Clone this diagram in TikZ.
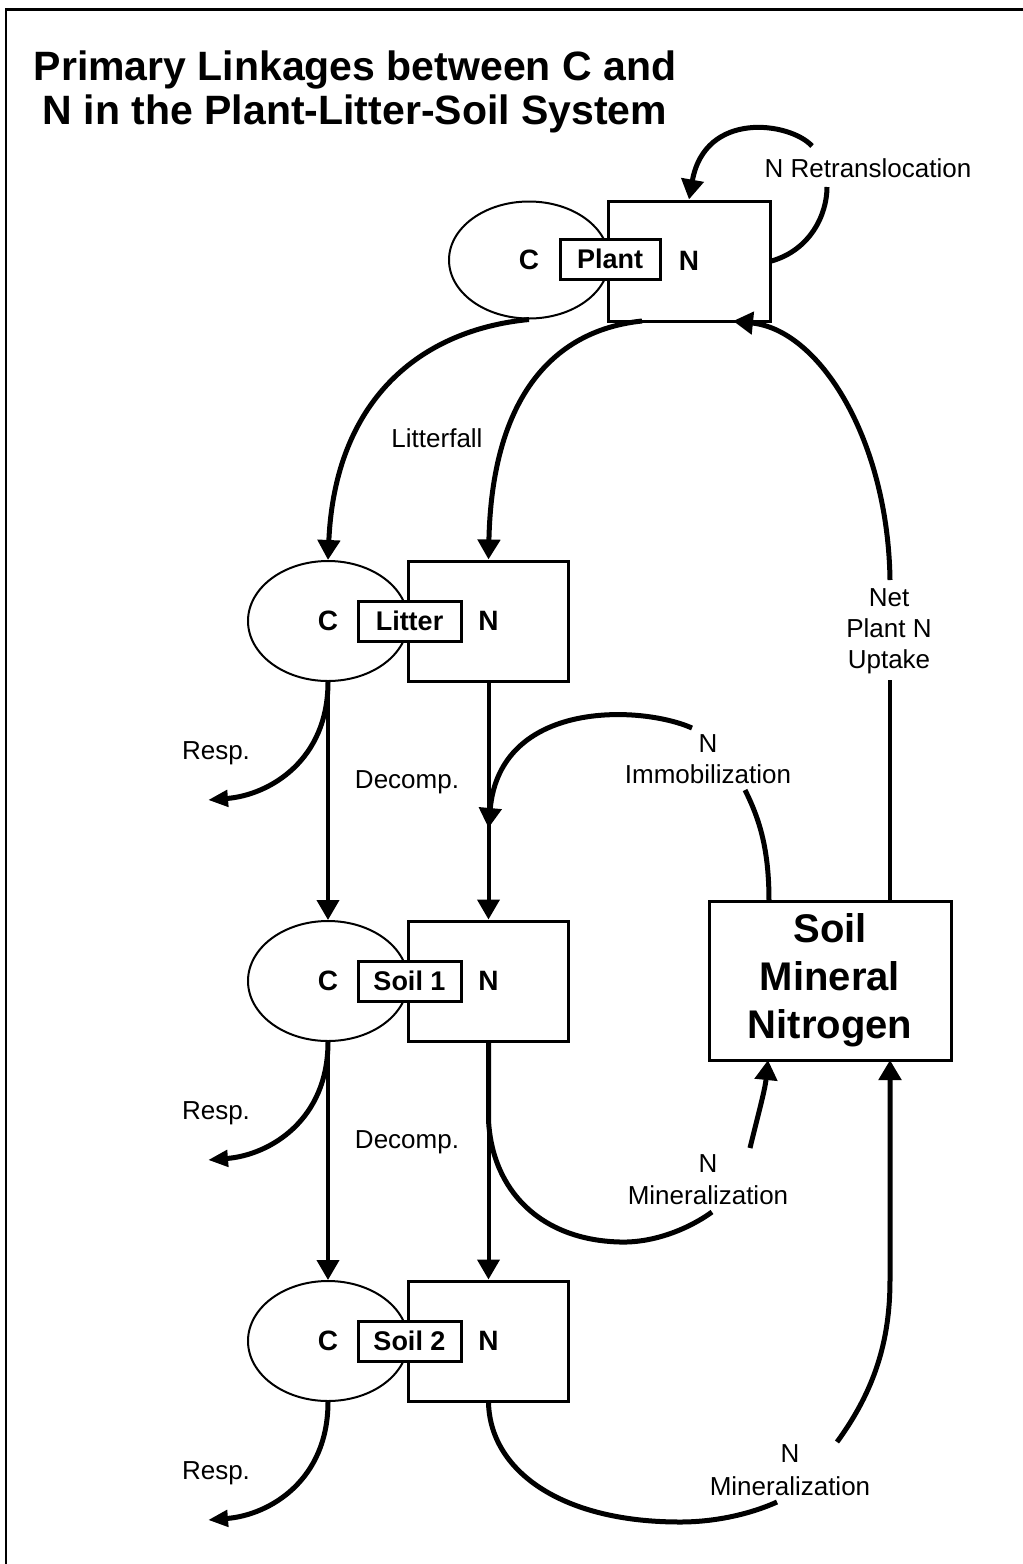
\documentclass[tikz,border=0pt]{standalone}
\usepackage{fontspec}
\setmainfont{Liberation Sans}
\usetikzlibrary{arrows.meta,shapes.geometric}
\begin{document}
\begin{tikzpicture}[x=1pt,y=-1pt,
  lbl/.style={font=\fontsize{26}{30}\selectfont, anchor=base, inner sep=0pt},
  bx/.style={draw, line width=3pt, fill=white, minimum width=160pt, minimum height=120pt, inner sep=0pt, font=\bfseries\fontsize{28}{30}\selectfont},
  ell/.style={draw, ellipse, line width=2pt, minimum width=160pt, minimum height=120pt, inner sep=0pt, font=\bfseries\fontsize{28}{30}\selectfont},
  tag/.style={draw, line width=3pt, fill=white, minimum width=103pt, minimum height=40pt, inner sep=0pt, text height=19pt, text depth=0pt, font=\bfseries\fontsize{27}{30}\selectfont},
  flow/.style={line width=4pt, -{Triangle[width=22pt,length=20pt]}},
  curve/.style={line width=5pt, -{Triangle[width=22pt,length=20pt]}},
  curvenotip/.style={line width=5pt},
  resp/.style={line width=5pt, -{Triangle[width=16pt,length=20pt]}},
]
\useasboundingbox (0,0) rectangle (1023,1564);
% frame
\draw[line width=3pt] (5,9.5) -- (1023,9.5);
\draw[line width=2pt] (6,9.5) -- (6,1564);
% title
\node[anchor=base, inner sep=0pt, font=\bfseries\fontsize{41}{44}\selectfont] (t1) at (355,80) {Primary Linkages between C and};
\node[anchor=base, inner sep=0pt, font=\bfseries\fontsize{41}{44}\selectfont] (t2) at (355,124) {N in the Plant-Litter-Soil System};
% plant
\node[ell, minimum height=117pt] (pC) at (529,260) {C};
\node[bx, minimum width=162pt] (pN) at (689,261) {N};
\node[tag, minimum width=100pt] (pL) at (610,259) {Plant};
% litter
\node[ell] (lC) at (328,621) {C};
\node[bx] (lN) at (488.5,621) {N};
\node[tag] (lL) at (409.5,621) {Litter};
% soil 1
\node[ell] (s1C) at (328,981) {C};
\node[bx] (s1N) at (488.5,981) {N};
\node[tag] (s1L) at (409.5,981) {Soil 1};
% soil 2
\node[ell] (s2C) at (328,1341) {C};
\node[bx] (s2N) at (488.5,1341) {N};
\node[tag] (s2L) at (409.5,1341) {Soil 2};
% soil mineral nitrogen
\node[draw, line width=3pt, minimum width=242pt, minimum height=159pt, inner sep=0pt, align=center, font=\bfseries\fontsize{40}{48}\selectfont] (smn) at (830,980.5) {Soil\\Mineral\\Nitrogen};

% coordinates
\coordinate (pNs) at (642,321);
\coordinate (rt1) at (827,187);
\coordinate (rt2) at (812,146);
\coordinate (smnU) at (890,901);
\coordinate (nu1) at (890,680);
\coordinate (nu2) at (890,580);
\coordinate (pNu) at (733,321);
\coordinate (smnI) at (769,901);
\coordinate (im1) at (745,790);
\coordinate (im2) at (692,728);
\coordinate (imT) at (488.5,828);
\coordinate (m1a) at (712,1212);
\coordinate (m1b) at (750,1148);
\coordinate (smnM1) at (768,1060);
\coordinate (m2a) at (777,1502);
\coordinate (m2b) at (837,1442);
\coordinate (smnM2) at (890,1060);
\coordinate (r1) at (208,800);
\coordinate (r2) at (208,1160);
\coordinate (r3) at (208,1520);

% litterfall
\draw[curve] (pC.south) .. controls (420,330) and (335,400) .. (lC.north);
\draw[curve] (pNs) .. controls (555,330) and (492,395) .. (lN.north);
% retranslocation
\draw[curvenotip] (pN.east) .. controls (810,250) and (827,215) .. (rt1);
\draw[curve] (rt2) .. controls (790,122) and (705,110) .. (pN.north);
% net uptake
\draw[line width=4pt] (smnU) -- (nu1);
\draw[curve] (nu2) .. controls (888,440) and (820,330) .. (pNu);
% immobilization
\draw[curvenotip] (smnI) .. controls (769,850) and (760,820) .. (im1);
\draw[curve] (im2) .. controls (640,705) and (500,700) .. (imT);
% decomposition flows
\draw[flow] (lC.south) -- (s1C.north);
\draw[flow] (s1C.south) -- (s2C.north);
\draw[flow] (lN.south) -- (s1N.north);
\draw[flow] (s1N.south) -- (s2N.north);
% respiration
\draw[resp] (lC.south) .. controls (328,760) and (270,795) .. (r1);
\draw[resp] (s1C.south) .. controls (328,1120) and (270,1155) .. (r2);
\draw[resp] (s2C.south) .. controls (328,1480) and (270,1515) .. (r3);
% mineralization 1
\draw[curvenotip] (s1N.south) -- (488.5,1120) .. controls (492,1190) and (540,1240) .. (620,1242) .. controls (655,1243) and (690,1228) .. (m1a);
\draw[curve] (m1b) .. controls (758,1115) and (765,1090) .. (smnM1);
% mineralization 2
\draw[curvenotip] (s2N.south) .. controls (490,1470) and (560,1522) .. (680,1522) .. controls (720,1522) and (755,1512) .. (m2a);
\draw[curve] (m2b) .. controls (875,1390) and (890,1340) .. (890,1280) -- (smnM2);

% labels
\node[lbl] (lf) at (437,447) {Litterfall};
\node[lbl] (d1) at (407,788) {Decomp.};
\node[lbl] (d2) at (407,1148) {Decomp.};
\node[lbl] (rs1) at (216,759) {Resp.};
\node[lbl] (rs2) at (216,1119) {Resp.};
\node[lbl] (rs3) at (216,1479) {Resp.};
\node[lbl] (rtl) at (868,177) {N Retranslocation};
\node[lbl] (nu1l) at (889,606) {Net};
\node[lbl] (nu2l) at (889,637) {Plant N};
\node[lbl] (nu3l) at (889,668) {Uptake};
\node[lbl] (im1l) at (708,752) {N};
\node[lbl] (im2l) at (708,783) {Immobilization};
\node[lbl] (mi1a) at (708,1172) {N};
\node[lbl] (mi1b) at (708,1204) {Mineralization};
\node[lbl] (mi2a) at (790,1462) {N};
\node[lbl] (mi2b) at (790,1495) {Mineralization};
\end{tikzpicture}
\end{document}
